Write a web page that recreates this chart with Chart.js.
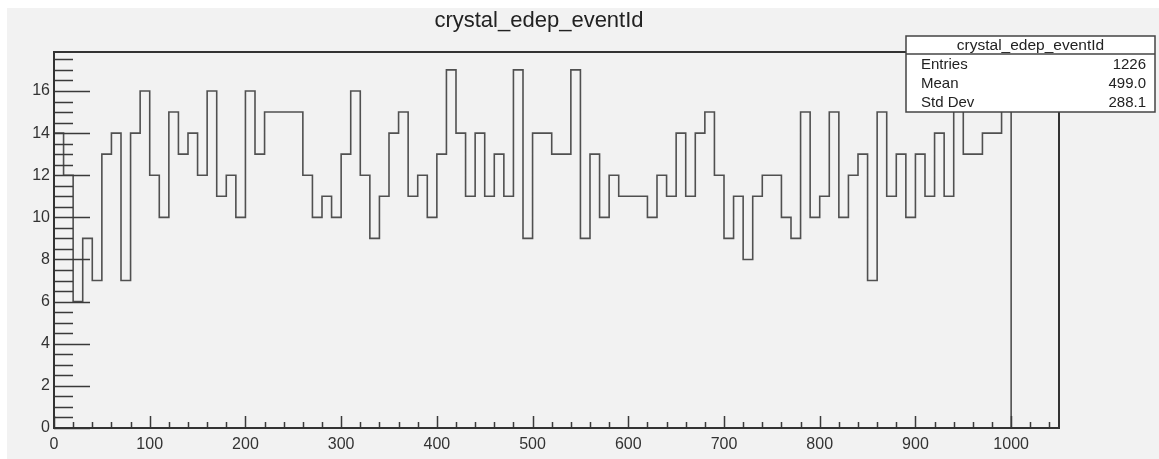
<!DOCTYPE html>
<html>
<head>
<meta charset="utf-8">
<script src="https://cdn.jsdelivr.net/npm/chart.js@4.4.1/dist/chart.umd.min.js"></script>
<style>
  html, body { margin: 0; padding: 0; background: #fff; }
</style>
</head>
<body>
<canvas id="hist" width="1159" height="459"></canvas>
<script>
const histTitle = "crystal_edep_eventId";

// bin contents, 100 bins of width 10 from 0 to 1000
const binLow = 0;
const binWidth = 10;
const counts = [
  14, 12, 6, 9, 7, 13, 14, 7, 14, 16,
  12, 10, 15, 13, 14, 12, 16, 11, 12, 10,
  16, 13, 15, 15, 15, 15, 12, 10, 11, 10,
  13, 16, 12, 9, 11, 14, 15, 11, 12, 10,
  13, 17, 14, 11, 14, 11, 13, 11, 17, 9,
  14, 14, 13, 13, 17, 9, 13, 10, 12, 11,
  11, 11, 10, 12, 11, 14, 11, 14, 15, 12,
  9, 11, 8, 11, 12, 12, 10, 9, 15, 10,
  11, 15, 10, 12, 13, 7, 15, 11, 13, 10,
  13, 11, 14, 11, 16, 13, 13, 14, 14, 17,
];

const xRange = [0, 1050];
const yRange = [0, 17.85];
const xTicks = [0, 100, 200, 300, 400, 500, 600, 700, 800, 900, 1000];
const yTicks = [0, 2, 4, 6, 8, 10, 12, 14, 16];
const xMinorStep = 20;
const yMinorStep = 0.5;

const statNames = ["Entries", "Mean", "Std Dev"];
const statValues = ["1226", "499.0", "288.1"];

const font = '"Liberation Sans", Arial, sans-serif';

// step outline: rise at the first edge, drop at the last edge
let points = [{ x: binLow, y: 0 }];
counts.forEach((c, i) => points.push({ x: binLow + i * binWidth, y: c }));
points.push({ x: binLow + counts.length * binWidth, y: 0 });

const rootLook = {
  id: "rootLook",
  beforeDraw(chart) {
    const ctx = chart.ctx;
    ctx.save();
    ctx.fillStyle = "#ffffff";
    ctx.fillRect(0, 0, chart.width, chart.height);
    ctx.fillStyle = "#f2f2f2";
    ctx.fillRect(7, 8, chart.width - 7, chart.height - 8);
    ctx.restore();
  },
  afterDatasetsDraw(chart) {
    const ctx = chart.ctx;
    const x = chart.scales.x;
    const y = chart.scales.y;
    const a = chart.chartArea;
    ctx.save();

    // tick marks pointing into the frame
    ctx.strokeStyle = "#3a3a3a";
    ctx.lineWidth = 1.5;
    ctx.beginPath();
    for (let v = xRange[0]; v <= xRange[1] + 0.001; v += xMinorStep) {
      const px = Math.round(x.getPixelForValue(v)) + 0.5;
      const len = v % 100 === 0 ? 12 : 6;
      ctx.moveTo(px, a.bottom);
      ctx.lineTo(px, a.bottom - len);
    }
    for (let v = yRange[0]; v <= yRange[1]; v += yMinorStep) {
      const py = Math.round(y.getPixelForValue(v)) + 0.5;
      const len = v % 2 === 0 ? 36 : 19;
      ctx.moveTo(a.left, py);
      ctx.lineTo(a.left + len, py);
    }
    ctx.stroke();

    // frame
    ctx.lineWidth = 2;
    ctx.strokeStyle = "#333";
    ctx.strokeRect(a.left, a.top, a.right - a.left, a.bottom - a.top);

    // title
    ctx.fillStyle = "#222";
    ctx.font = "22px " + font;
    ctx.textAlign = "center";
    ctx.textBaseline = "alphabetic";
    ctx.fillText(histTitle, 539, 27);

    // stats box
    const bx = 906, by = 36, bw = 249, bh = 76;
    ctx.fillStyle = "#ffffff";
    ctx.fillRect(bx, by, bw, bh);
    ctx.strokeStyle = "#444";
    ctx.lineWidth = 1.5;
    ctx.strokeRect(bx, by, bw, bh);
    ctx.beginPath();
    ctx.moveTo(bx, 54);
    ctx.lineTo(bx + bw, 54);
    ctx.stroke();

    ctx.fillStyle = "#222";
    ctx.font = "15.5px " + font;
    ctx.fillText(histTitle, bx + bw / 2, 50);
    ctx.font = "15px " + font;
    const rows = [69, 88, 107];
    statNames.forEach((n, i) => {
      ctx.textAlign = "left";
      ctx.fillText(n, 921, rows[i]);
      ctx.textAlign = "right";
      ctx.fillText(statValues[i], 1146, rows[i]);
    });
    ctx.restore();
  },
};

let data = {
  datasets: [
    {
      label: histTitle,
      data: points,
      stepped: true,
      borderColor: "#505050",
      borderWidth: 1.6,
      pointRadius: 0,
      fill: false,
    },
  ],
};

let config = {
  type: "line",
  data: data,
  options: {
    responsive: false,
    animation: false,
    layout: {
      padding: { left: 0, right: 100, top: 52, bottom: 0 },
    },
    plugins: {
      legend: { display: false },
      title: { display: false },
      tooltip: { enabled: false },
    },
    scales: {
      x: {
        type: "linear",
        min: xRange[0],
        max: xRange[1],
        afterBuildTicks: (s) => {
          s.ticks = xTicks.map((v) => ({ value: v }));
        },
        afterFit: (s) => {
          s.height = 31;
        },
        grid: { display: false, drawTicks: false },
        border: { display: false },
        ticks: {
          autoSkip: false,
          maxRotation: 0,
          padding: 7,
          color: "#333",
          font: { family: font, size: 16 },
          callback: (v) => String(v),
        },
      },
      y: {
        type: "linear",
        min: yRange[0],
        max: yRange[1],
        afterBuildTicks: (s) => {
          s.ticks = yTicks.map((v) => ({ value: v }));
        },
        afterFit: (s) => {
          s.width = 54;
        },
        grid: { display: false, drawTicks: false },
        border: { display: false },
        ticks: {
          padding: 4,
          color: "#333",
          font: { family: font, size: 16 },
          callback: (v) => String(v),
        },
      },
    },
  },
  plugins: [rootLook],
};

var hist = new Chart(document.querySelector("#hist").getContext("2d"), config);
</script>
</body>
</html>
